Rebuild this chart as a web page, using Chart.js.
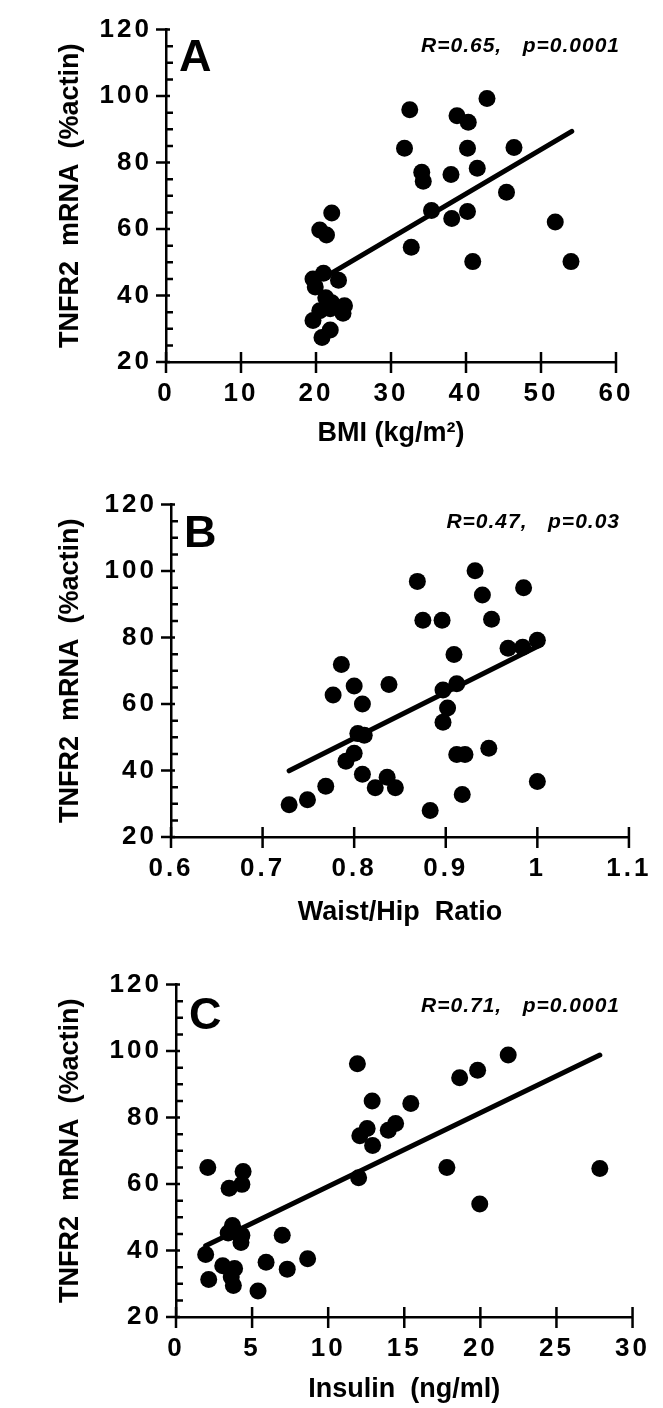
<!DOCTYPE html>
<html>
<head>
<meta charset="utf-8">
<script src="https://cdn.jsdelivr.net/npm/chart.js@4"></script>
<style>
  html, body { margin: 0; padding: 0; background: #fff; overflow: hidden; }
  body { width: 663px; height: 1408px; position: relative; }
  canvas { position: absolute; left: 0; }
</style>
</head>
<body>
<canvas id="chartA" width="663" height="470" style="top:0px"></canvas>
<canvas id="chartB" width="663" height="470" style="top:475px"></canvas>
<canvas id="chartC" width="663" height="470" style="top:955px"></canvas>
<script>
// panel A : BMI
const bmi  = [32.5, 42.8, 38.8, 40.3, 31.8, 40.2, 46.4, 41.5, 34.1, 34.3, 38.0, 45.4,
              35.4, 38.1, 40.2, 22.1, 20.5, 21.4, 51.9, 32.7, 40.9, 54.0, 19.6, 21.0,
              23.0, 19.9, 21.3, 22.1, 23.8, 23.6, 20.5, 19.6, 21.9, 20.8, 21.9];
const tnfA = [95.9, 99.3, 94.1, 92.1, 84.3, 84.3, 84.5, 78.3, 77.1, 74.4, 76.4, 71.1,
              65.6, 63.2, 65.3, 64.8, 59.7, 58.2, 62.1, 54.5, 50.2, 50.2, 45.0, 46.7,
              44.6, 42.6, 39.3, 37.8, 36.9, 34.7, 35.4, 32.5, 29.6, 27.4, 36.0];
const fitBmi = [21.9, 54.1];
const fitA   = [46.5, 89.4];

// panel B : waist/hip ratio
const whr  = [0.869, 0.932, 0.940, 0.985, 0.875, 0.896, 0.950, 0.968, 0.984, 1.000,
              0.909, 0.786, 0.800, 0.838, 0.777, 0.809, 0.897, 0.912, 0.902, 0.897,
              0.804, 0.811, 0.800, 0.791, 0.809, 0.823, 0.836, 0.845, 0.912, 0.921,
              0.947, 1.000, 0.918, 0.883, 0.769, 0.749, 0.729];
const tnfB = [96.9, 100.1, 92.8, 95.0, 85.2, 85.2, 85.5, 76.8, 77.1, 79.2,
              74.9, 71.9, 65.4, 65.9, 62.7, 60.0, 64.2, 66.1, 58.8, 54.5,
              51.1, 50.6, 45.2, 42.8, 38.9, 34.8, 38.0, 34.8, 44.8, 44.8,
              46.7, 36.7, 32.8, 28.0, 35.3, 31.2, 29.7];
const fitWhr = [0.729, 1.0];
const fitB   = [39.9, 77.3];

// panel C : insulin
const insulin = [2.09, 3.49, 4.41, 4.33, 3.71, 3.43, 4.33, 4.27, 3.9, 1.95, 2.15, 3.07,
                 3.85, 3.63, 3.77, 5.39, 5.92, 6.98, 7.31, 8.65, 11.92, 12.08, 12.56,
                 12.92, 12.89, 12.0, 13.95, 14.43, 15.43, 18.64, 19.82, 21.83, 17.8,
                 19.96, 27.85];
const tnfC = [65.0, 58.7, 63.8, 59.9, 47.5, 45.3, 44.6, 42.4, 45.6, 38.8, 31.3, 35.4,
              34.6, 32.0, 29.5, 27.8, 36.5, 44.6, 34.4, 37.5, 96.2, 74.5, 76.7,
              71.6, 85.0, 61.9, 76.2, 78.2, 84.2, 92.0, 94.2, 98.8, 65.0,
              54.0, 64.7];
const fitIns = [1.95, 27.85];
const fitC   = [41.4, 98.8];

const yTicks = [20, 40, 60, 80, 100, 120];
const xTicksA = [0, 10, 20, 30, 40, 50, 60];
const xTicksB = [0.6, 0.7, 0.8, 0.9, 1.0, 1.1];
const xLabelsB = ['0.6', '0.7', '0.8', '0.9', '1', '1.1'];
const xTicksC = [0, 5, 10, 15, 20, 25, 30];

const FONT = "'Liberation Sans', Arial, sans-serif";

// tick marks, panel letter and stats text
const decor = {
  id: 'decor',
  afterDatasetsDraw(chart) { chart.ctx.letterSpacing = '3px'; },
  afterDraw(chart, args, opts) {
    const ctx = chart.ctx;
    ctx.letterSpacing = '0px';
    const xs = chart.scales.x, ys = chart.scales.y;
    const ax = chart.chartArea.left, ay = chart.chartArea.bottom;
    ctx.save();
    ctx.strokeStyle = '#000';
    ctx.lineWidth = 2.5;
    ctx.beginPath();
    for (let v = 20; v <= 120; v += 5) {
      const py = ys.getPixelForValue(v);
      if (v % 20 === 0) { ctx.moveTo(ax - 10, py); ctx.lineTo(ax + 4, py); }
      else { ctx.moveTo(ax, py); ctx.lineTo(ax + 7, py); }
    }
    opts.xticks.forEach(v => {
      const px = xs.getPixelForValue(v);
      ctx.moveTo(px, ay - 10); ctx.lineTo(px, ay + 11);
    });
    ctx.stroke();

    ctx.fillStyle = '#000';
    ctx.font = 'bold 45px ' + FONT;
    ctx.textAlign = 'left';
    ctx.textBaseline = 'alphabetic';
    ctx.fillText(opts.letter, ax + 13, ys.top + opts.letterY);

    ctx.font = 'italic bold 21px ' + FONT;
    ctx.letterSpacing = '1px';
    ctx.textAlign = 'right';
    ctx.textBaseline = 'middle';
    ctx.fillText(opts.stats, 620, ys.top + opts.statsY);
    ctx.letterSpacing = '0px';
    ctx.restore();
  }
};

function makePanel(id, p) {
  const pts = p.x.map((v, i) => ({x: v, y: p.y[i]}));
  const fit = p.fitX.map((v, i) => ({x: v, y: p.fitY[i]}));
  return new Chart(document.getElementById(id), {
    type: 'scatter',
    data: {
      datasets: [
        {data: pts, pointRadius: 8.5, pointHoverRadius: 8.5, backgroundColor: '#000',
         borderWidth: 0, clip: false},
        {type: 'line', data: fit, borderColor: '#000', borderWidth: 5,
         borderCapStyle: 'round', pointRadius: 0, showLine: true, clip: false}
      ]
    },
    options: {
      responsive: false,
      animation: false,
      events: [],
      layout: {padding: {top: 18.5, right: 663 - p.right, left: 0, bottom: 0}},
      plugins: {
        legend: {display: false},
        tooltip: {enabled: false},
        decor: {letter: p.letter, stats: p.stats, xticks: p.xticks,
                letterY: p.letterY, statsY: p.statsY}
      },
      scales: {
        x: {
          type: 'linear',
          min: p.xticks[0], max: p.xticks[p.xticks.length - 1],
          afterFit: s => { s.height = 108; },
          afterBuildTicks: s => { s.ticks = p.xticks.map(v => ({value: v})); },
          grid: {display: false, drawTicks: false},
          border: {display: true, color: '#000', width: 2.5},
          ticks: {
            z: 1, padding: 16, color: '#000', maxRotation: 0, autoSkip: false,
            font: {family: FONT, size: 26, weight: 'bold'},
            callback: (v, i) => p.xlabels[i]
          },
          title: {display: true, text: p.xtitle, color: '#000',
                  font: {family: FONT, size: 27, weight: 'bold'},
                  padding: {top: 0, bottom: p.titlePad}}
        },
        y: {
          type: 'linear',
          min: 20, max: 120,
          afterFit: s => { s.width = p.left; },
          afterBuildTicks: s => { s.ticks = yTicks.map(v => ({value: v})); },
          grid: {display: false, drawTicks: false},
          border: {display: true, color: '#000', width: 2.5},
          ticks: {
            z: 1, padding: 14, color: '#000', autoSkip: false,
            font: {family: FONT, size: 26, weight: 'bold'}
          },
          title: {display: true, text: 'TNFR2  mRNA  (%actin)', color: '#000',
                  font: {family: FONT, size: 27, weight: 'bold'},
                  padding: {top: 54, bottom: 0}}
        }
      }
    },
    plugins: [decor]
  });
}

makePanel('chartA', {
  x: bmi, y: tnfA, fitX: fitBmi, fitY: fitA, left: 166, right: 616,
  xticks: xTicksA, xlabels: xTicksA.map(String), xtitle: 'BMI (kg/m²)', titlePad: 20,
  letter: 'A', letterY: 41.5, stats: 'R=0.65,   p=0.0001', statsY: 16.5
});
makePanel('chartB', {
  x: whr, y: tnfB, fitX: fitWhr, fitY: fitB, left: 171, right: 631,
  xticks: xTicksB, xlabels: xLabelsB, xtitle: 'Waist/Hip  Ratio', titlePad: 16,
  letter: 'B', letterY: 42, stats: 'R=0.47,   p=0.03', statsY: 18
});
makePanel('chartC', {
  x: insulin, y: tnfC, fitX: fitIns, fitY: fitC, left: 176, right: 634,
  xticks: xTicksC, xlabels: xTicksC.map(String), xtitle: 'Insulin  (ng/ml)', titlePad: 19,
  letter: 'C', letterY: 44, stats: 'R=0.71,   p=0.0001', statsY: 22
});
</script>
</body>
</html>
